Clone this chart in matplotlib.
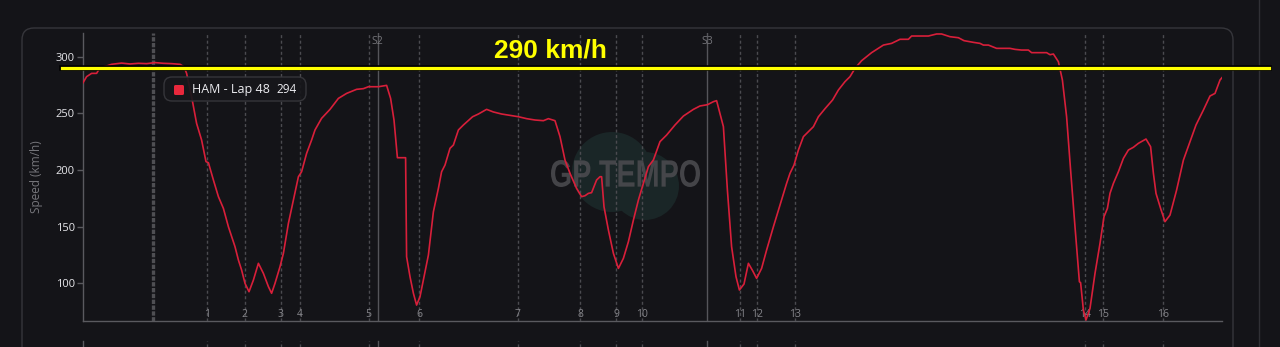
import matplotlib
matplotlib.use("Agg")
import matplotlib.pyplot as plt
from matplotlib.patches import FancyBboxPatch, Circle, PathPatch
from matplotlib.transforms import IdentityTransform, Affine2D, blended_transform_factory
from matplotlib.textpath import TextPath
from matplotlib.font_manager import FontProperties
from matplotlib.lines import Line2D
import matplotlib.patheffects as pe

# ---------------- data ----------------
distance_m = [0, 18, 43, 68, 85, 118, 143, 193, 235, 277, 318, 360, 402, 443, 485, 505, 518,
              543, 568, 593, 615, 627, 652, 677, 702, 727, 760, 777, 793, 810, 830, 852, 877,
              902, 927, 943, 960, 985, 1002, 1027, 1052, 1077, 1093, 1118, 1143, 1160, 1193,
              1235, 1277, 1318, 1368, 1402, 1427, 1477, 1518, 1538, 1555, 1572, 1613, 1618,
              1635, 1652, 1668, 1685, 1705, 1727, 1752, 1777, 1793, 1810, 1835, 1852, 1877,
              1902, 1948, 1977, 2018, 2052, 2093, 2135, 2177, 2218, 2260, 2302, 2327, 2360,
              2385, 2410, 2435, 2468, 2493, 2510, 2527, 2543, 2568, 2585, 2593, 2605, 2627,
              2652, 2677, 2702, 2727, 2752, 2777, 2802, 2827, 2852, 2885, 2918, 2960, 3002,
              3052, 3085, 3122, 3152, 3168, 3202, 3222, 3243, 3265, 3282, 3305, 3327, 3348,
              3368, 3393, 3418, 3452, 3485, 3518, 3535, 3555, 3577, 3602, 3627, 3652, 3677,
              3710, 3748, 3777, 3810, 3835, 3860, 3893, 3943, 4002, 4043, 4085, 4127, 4143,
              4227, 4268, 4293, 4335, 4377, 4405, 4452, 4485, 4502, 4527, 4568, 4635, 4660,
              4693, 4727, 4743, 4768, 4818, 4835, 4852, 4877, 4897, 4918, 4938, 4960, 4982,
              4988, 5002, 5015, 5035, 5060, 5085, 5105, 5122, 5135, 5152, 5177, 5202, 5227,
              5252, 5277, 5315, 5338, 5352, 5365, 5388, 5410, 5435, 5468, 5502, 5532, 5565,
              5602, 5635, 5660, 5685, 5695]
speed_kmh = [277.0, 282.4, 285.3, 285.3, 290.3, 291.8, 293.3, 294.4, 293.6, 294.2, 293.9, 294.8,
             294.2, 293.9, 293.3, 291.2, 285.3, 264.7, 241.1, 226.4, 207.3, 206.4, 191.1, 176.4,
             166.0, 149.8, 132.2, 120.4, 111.6, 99.8, 92.4, 102.7, 117.5, 108.6, 96.9, 91.0,
             99.8, 114.5, 126.3, 152.8, 173.4, 194.0, 198.4, 214.6, 226.4, 235.3, 245.6, 253.5,
             263.2, 267.6, 271.2, 271.8, 273.5, 273.5, 274.7, 263.2, 244.1, 210.8, 210.8, 123.3,
             105.7, 91.0, 80.6, 88.0, 105.7, 124.8, 163.1, 183.7, 198.4, 204.3, 219.1, 222.0,
             235.3, 239.7, 247.0, 249.4, 253.5, 251.2, 249.4, 248.2, 247.0, 245.3, 244.1, 243.5,
             245.3, 243.5, 229.4, 208.7, 197.0, 183.7, 176.4, 177.2, 179.3, 179.9, 191.1, 194.0,
             194.0, 167.5, 146.9, 126.3, 113.0, 121.9, 136.6, 155.7, 173.4, 188.1, 202.9, 208.8,
             225.0, 230.8, 239.7, 247.6, 253.5, 256.5, 257.6, 260.3, 261.2, 238.2, 182.2, 132.2,
             105.7, 93.9, 99.2, 117.5, 111.0, 104.2, 113.0, 129.2, 149.8, 169.0, 188.1, 197.0,
             204.3, 217.6, 229.4, 233.8, 238.2, 247.0, 254.1, 261.8, 270.6, 278.0, 282.4, 289.7,
             296.5, 303.6, 310.3, 311.8, 315.4, 315.4, 318.3, 318.3, 320.1, 320.1, 317.7, 316.8,
             314.2, 312.7, 311.8, 310.3, 310.3, 307.4, 307.4, 306.5, 305.9, 305.9, 303.6, 303.6,
             303.6, 301.8, 302.4, 295.6, 279.4, 247.0, 199.9, 149.8, 101.2, 100.4, 76.2, 67.4,
             77.7, 108.6, 135.1, 158.7, 166.0, 179.3, 188.1, 198.4, 210.2, 217.6, 220.0, 223.5,
             227.3, 220.5, 197.0, 179.3, 166.0, 154.3, 160.1, 182.2, 208.7, 223.5, 239.7, 252.9,
             265.3, 267.6, 279.4, 281.5]

corner_labels = ["1", "2", "3", "4", "5", "6", "7", "8", "9", "10", "11", "12", "13", "14", "15", "16"]
corner_dist = [620, 808, 988, 1085, 1428, 1682, 2173, 2485, 2665, 2793, 3285, 3368, 3560, 5010, 5102, 5402]
sector_labels = ["S2", "S3"]
sector_dist = [1473, 3122]
cursor_dist = 348
cursor_speed = 294
reference_speed = 290
reference_label = "290 km/h"
driver_label = "HAM - Lap 48"
lap_length = 5695
y_ticks = [100, 150, 200, 250, 300]
y_limits = (66.8, 320.7)

# ---------------- style ----------------
BG = "#141418"
LINE_RED = "#d81f3a"
GRID = "#4b4b50"
W, H = 1280, 347

fig = plt.figure(figsize=(W / 100, H / 100), dpi=100, facecolor=BG)
PIX = IdentityTransform()

def P(x, ytop):
    return (x, H - ytop)

# outer panel
panel = FancyBboxPatch(P(22, 372), 1233 - 22, 372 - 28,
                       boxstyle="round,pad=0,rounding_size=12",
                       transform=PIX, facecolor=BG, edgecolor="#36363b", linewidth=1.0, zorder=-5)
fig.add_artist(panel)
fig.add_artist(Line2D([1259, 1259], [0, H], transform=PIX, color="#303035", lw=1.0, zorder=-4))

ax = fig.add_axes([83 / W, (H - 320.7) / H, 1139 / W, (320.7 - 33.3) / H])
ax.set_facecolor("none")
ax.set_xlim(0, lap_length)
ax.set_ylim(*y_limits)

# watermark
for (cx, cy, r) in [(612, 172, 40), (645, 186, 34)]:
    ax.add_patch(Circle(P(cx, cy), r, transform=PIX, facecolor="#1a2627", edgecolor="none", zorder=0))
fp = FontProperties(family="Liberation Sans", weight="bold")
tp = TextPath((0, 0), "GP TEMPO", size=100, prop=fp)
ext = tp.get_extents()
sx = (700 - 551) / ext.width
sy = (187 - 160) / ext.height
tr = Affine2D().translate(-ext.x0, -ext.y0).scale(sx, sy).translate(551, H - 187) + PIX
ax.add_patch(PathPatch(tp, transform=tr, facecolor="#4a4a4e", edgecolor="none", alpha=0.9, zorder=0.5))

# corner and sector lines
xt = ax.get_xaxis_transform()
for d, lab in zip(corner_dist, corner_labels):
    ax.axvline(d, color=GRID, lw=1.0, ls=(0, (2.2, 1.8)), zorder=1)
    ax.text(d, 0.022, lab, transform=xt, ha="center", va="center", color="#85858a",
            fontsize=7.5, family="Open Sans", zorder=2)
for d, lab in zip(sector_dist, sector_labels):
    ax.axvline(d, color="#55555a", lw=1.0, zorder=1)
    ax.text(d, 0.972, lab, transform=xt, ha="center", va="center", color="#75757a",
            fontsize=7.5, family="Open Sans", zorder=2)

# cursor line
ax.axvline(cursor_dist, color="#4f4f53", lw=2.4, ls=(0, (1.3, 0.45)), zorder=1.5)

# speed trace
ax.plot(distance_m, speed_kmh, color=LINE_RED, lw=1.2, zorder=3)

# reference line
ax.axhline(reference_speed, xmin=(62 - 83) / 1139, xmax=(1269 - 83) / 1139, color="#ffff00",
           lw=2.3, clip_on=False, zorder=6,
           path_effects=[pe.Stroke(linewidth=4.0, foreground="#000000"), pe.Normal()])
fig.text(550 / W, (H - 50) / H, reference_label, ha="center", va="center", color="#ffff00",
         fontsize=19, fontweight="bold", family="Liberation Sans", zorder=7)

# axes styling
for s in ["top", "right"]:
    ax.spines[s].set_visible(False)
for s in ["left", "bottom"]:
    ax.spines[s].set_color("#5a5a5f")
    ax.spines[s].set_linewidth(1.0)
ax.set_xticks([])
ax.set_yticks(y_ticks)
ax.tick_params(axis="y", colors="#5a5a5f", labelcolor="#e6e6ea", labelsize=8, length=4, width=1, pad=2)
for t in ax.get_yticklabels():
    t.set_family("Open Sans")
ax.set_ylabel("Speed (km/h)", color="#76767b", fontsize=8.5, family="Open Sans")
ax.yaxis.set_label_coords((43 - 83) / 1139, 0.5)

# tooltip
tip = FancyBboxPatch(P(164, 101), 306 - 164, 101 - 77, boxstyle="round,pad=0,rounding_size=8",
                     transform=PIX, facecolor="#17171b", edgecolor="#38383d", linewidth=1.0,
                     alpha=0.92, zorder=8)
fig.add_artist(tip)
fig.add_artist(FancyBboxPatch(P(174, 95), 10, 10, boxstyle="round,pad=0,rounding_size=1.5",
                              transform=PIX, facecolor="#e8283c", edgecolor="none", zorder=9))
fig.text(192 / W, (H - 89.5) / H, driver_label, ha="left", va="center", color="#ececf0",
         fontsize=9, family="Open Sans", zorder=9)
fig.text(276 / W, (H - 89.5) / H, str(cursor_speed), ha="left", va="center", color="#ececf0",
         fontsize=8.5, family="Open Sans", zorder=9)

# start of the next panel below
bt = blended_transform_factory(ax.transData, PIX)
for d in corner_dist:
    fig.add_artist(Line2D([d, d], [0, 6], transform=bt, color=GRID, lw=1.0, ls=(0, (2.2, 1.8))))
for d in sector_dist:
    fig.add_artist(Line2D([d, d], [0, 6], transform=bt, color="#55555a", lw=1.0))
fig.add_artist(Line2D([83, 83], [0, 6], transform=PIX, color="#5a5a5f", lw=1.0))

fig.savefig("out.png", dpi=100, facecolor=BG)
